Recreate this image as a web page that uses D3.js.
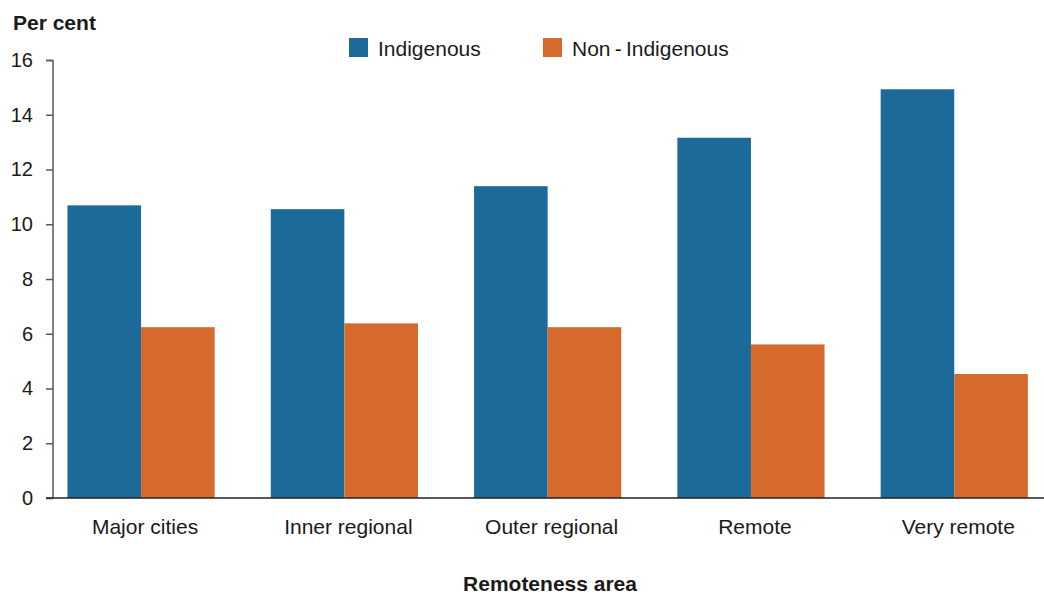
<!DOCTYPE html>
<html>
<head>
<meta charset="utf-8">
<script src="https://cdn.jsdelivr.net/npm/d3@7"></script>
<style>
  body { margin: 0; background: #fff; }
  svg text { font-family: "Liberation Sans", Arial, sans-serif; fill: #1a1a1a; }
</style>
</head>
<body>
<svg id="chart"></svg>
<script>
const categories = ["Major cities", "Inner regional", "Outer regional", "Remote", "Very remote"];
const seriesNames = ["Indigenous", "Non-Indigenous"];
const indigenous = [10.69, 10.55, 11.39, 13.16, 14.93];
const nonIndigenous = [6.24, 6.38, 6.24, 5.61, 4.53];
const yTicks = [0, 2, 4, 6, 8, 10, 12, 14, 16];
const colors = ["#1c6a9a", "#d66a2c"];

const width = 1044, height = 594;
const svg = d3.select("#chart").attr("width", width).attr("height", height);

const axisX = 53;
const y = d3.scaleLinear().domain([0, 16]).range([498, 60]);

// step ~203.3px, groups centred at 141, 344, ...
const x0 = d3.scaleBand().domain(categories).range([39.4, 1055.9]).paddingInner(0.276).paddingOuter(0.138);
const x1 = d3.scaleBand().domain(seriesNames).range([0, x0.bandwidth()]);

const rows = categories.map((c, i) => ({ cat: c, vals: [indigenous[i], nonIndigenous[i]] }));

svg.append("g")
  .selectAll("g")
  .data(rows)
  .join("g")
    .attr("transform", d => "translate(" + x0(d.cat) + ",0)")
  .selectAll("rect")
  .data(d => d.vals.map((v, j) => ({ key: seriesNames[j], v: v, j: j })))
  .join("rect")
    .attr("x", d => x1(d.key))
    .attr("y", d => y(d.v))
    .attr("width", x1.bandwidth())
    .attr("height", d => y(0) - y(d.v))
    .attr("fill", d => colors[d.j]);

// y axis
const yAxis = svg.append("g")
  .attr("transform", "translate(" + axisX + ",0)")
  .call(d3.axisLeft(y).tickValues(yTicks).tickSize(7).tickPadding(13));
yAxis.select(".domain").attr("stroke", "#595959").attr("stroke-width", 1.5).attr("d", "M-7,60.5H0V498");
yAxis.selectAll(".tick line").attr("stroke", "#595959").attr("stroke-width", 1.5);
yAxis.selectAll(".tick text").style("font-size", "20px").attr("fill", "#1a1a1a");

// x axis baseline
svg.append("line")
  .attr("x1", axisX - 7).attr("x2", width)
  .attr("y1", y(0)).attr("y2", y(0))
  .attr("stroke", "#222").attr("stroke-width", 1.5);

// category labels
svg.append("g")
  .selectAll("text")
  .data(categories)
  .join("text")
    .attr("x", d => x0(d) + x0.bandwidth() / 2 + 4)
    .attr("y", 534)
    .attr("text-anchor", "middle")
    .style("font-size", "21px")
    .text(d => d);

svg.append("text")
  .attr("x", 13).attr("y", 30)
  .style("font-size", "21px").style("font-weight", "bold")
  .text("Per cent");

svg.append("text")
  .attr("x", 550).attr("y", 591)
  .attr("text-anchor", "middle")
  .style("font-size", "21px").style("font-weight", "bold")
  .text("Remoteness area");

// legend
const legendX = [349, 543];
const legend = svg.append("g")
  .selectAll("g")
  .data(seriesNames)
  .join("g")
    .attr("transform", (d, i) => "translate(" + legendX[i] + ",38)");
legend.append("rect").attr("width", 19).attr("height", 19).attr("fill", (d, i) => colors[i]);
legend.append("text")
  .attr("x", 29).attr("y", 18)
  .style("font-size", "21px")
  .text(d => d === "Non-Indigenous" ? "Non\u2009-\u2009Indigenous" : d);
</script>
</body>
</html>
